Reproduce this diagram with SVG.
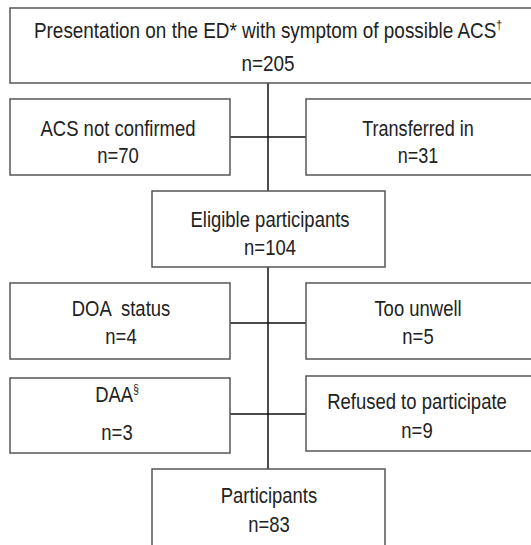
<svg xmlns="http://www.w3.org/2000/svg" width="531" height="545" viewBox="0 0 531 545">
<style>
.box{fill:#fff;stroke:#555;stroke-width:1.5}
.ln{stroke:#111;stroke-width:1.5;fill:none}
.t{font-family:"Liberation Sans",Arial,sans-serif;font-size:22px;fill:#222;text-anchor:middle}
.s{font-size:12px}
</style>
<rect width="531" height="545" fill="#fff"/>
<g id="connectors">
<line class="ln" x1="268" y1="83" x2="268" y2="191"/>
<line class="ln" x1="230" y1="137" x2="306" y2="137"/>
<line class="ln" x1="268" y1="267" x2="268" y2="469"/>
<line class="ln" x1="230" y1="323" x2="306" y2="323"/>
<line class="ln" x1="230" y1="414" x2="306" y2="414"/>
</g>
<g id="presentation">
<rect class="box" x="10" y="8" width="525" height="75"/>
<g transform="translate(268,0) scale(0.86,1)"><text class="t" x="0" y="38">Presentation on the ED* with symptom of possible ACS<tspan class="s" dy="-9">†</tspan></text>
<text class="t" x="0" y="71">n=205</text></g>
</g>
<g id="acs-not-confirmed">
<rect class="box" x="10" y="99" width="220" height="76"/>
<g transform="translate(118,0) scale(0.84,1)"><text class="t" x="0" y="136">ACS not confirmed</text><text class="t" x="0" y="163">n=70</text></g>
</g>
<g id="transferred-in">
<rect class="box" x="306" y="99" width="230" height="76"/>
<g transform="translate(418,0) scale(0.82,1)"><text class="t" x="0" y="136">Transferred in</text><text class="t" x="0" y="163">n=31</text></g>
</g>
<g id="eligible">
<rect class="box" x="152" y="191" width="233" height="76"/>
<g transform="translate(270,0) scale(0.84,1)"><text class="t" x="0" y="227">Eligible participants</text><text class="t" x="0" y="255">n=104</text></g>
</g>
<g id="doa-status">
<rect class="box" x="10" y="283" width="220" height="76"/>
<g transform="translate(121,0) scale(0.84,1)"><text class="t" x="0" y="316" xml:space="preserve">DOA  status</text><text class="t" x="0" y="344">n=4</text></g>
</g>
<g id="too-unwell">
<rect class="box" x="306" y="283" width="230" height="76"/>
<g transform="translate(418,0) scale(0.84,1)"><text class="t" x="0" y="316">Too unwell</text><text class="t" x="0" y="344">n=5</text></g>
</g>
<g id="daa">
<rect class="box" x="10" y="378" width="220" height="75"/>
<g transform="translate(117,0) scale(0.84,1)"><text class="t" x="0" y="402">DAA<tspan class="s" dy="-9">§</tspan></text><text class="t" x="0" y="440">n=3</text></g>
</g>
<g id="refused">
<rect class="box" x="306" y="376" width="230" height="75"/>
<g transform="translate(417,0) scale(0.84,1)"><text class="t" x="0" y="409">Refused to participate</text><text class="t" x="0" y="438">n=9</text></g>
</g>
<g id="participants">
<rect class="box" x="152" y="469" width="233" height="80"/>
<g transform="translate(269,0) scale(0.84,1)"><text class="t" x="0" y="503">Participants</text><text class="t" x="0" y="532">n=83</text></g>
</g>
</svg>
